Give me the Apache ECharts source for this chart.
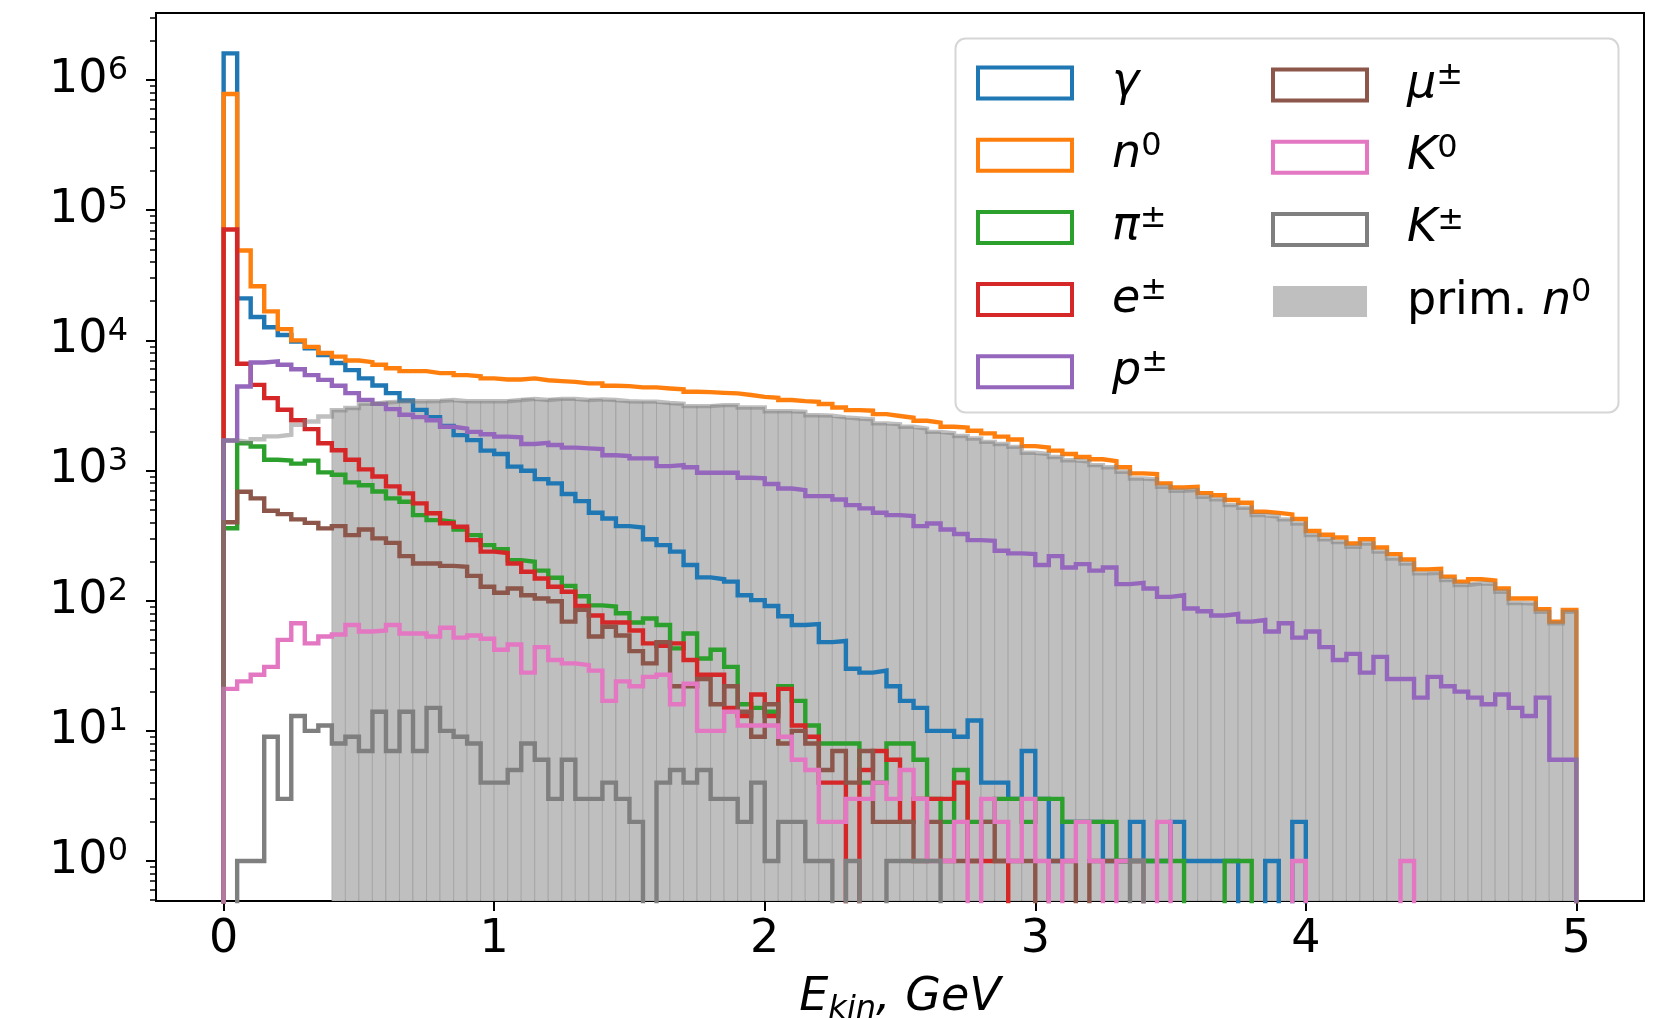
<!DOCTYPE html>
<html><head><meta charset="utf-8">
<script src="https://cdn.jsdelivr.net/npm/echarts@6/dist/echarts.min.js"></script>
<style>html,body{margin:0;padding:0;background:#fff}#c{width:1666px;height:1018px}</style>
</head><body><div id="c"></div>
<script>
// ---- histogram binning: 100 bins of 0.05 GeV from 0 to 5 GeV ----
const N_BINS = 100;
const BIN_W = 0.05;

// ---- counts per bin ----
const gamma = [1600000,21000,15100,12600,11000,9800,8700,7700,6700,5900,
 5100,4500,3930,3450,2920,2570,2200,1870,1710,1420,
 1340,1070,995,859,796,659,582,473,428,374,
 365,296,267,238,188,151,146,140,110,101,
 91,76,65,66,48,49,30,28,29,22,
 17,15,10,10,9,12,4,4,3,7,
 3,1,2,2,2,1,1,2,1,1,
 2,1,1,1,1,0,0,1,0,2,
 0,0,0,0,0,0,0,0,0,0, 0,0,0,0,0,0,0,0,0,0];
const n0 = [780000,49000,26000,16700,12200,10000,8900,8000,7500,7000,
 6800,6500,6100,5800,5800,5600,5600,5400,5300,5100,
 5000,5000,5100,4940,4860,4800,4670,4670,4480,4450,
 4350,4350,4270,4200,4030,4000,3950,3910,3800,3680,
 3620,3480,3410,3370,3240,3050,2910,2880,2710,2620,
 2540,2410,2330,2170,2140,2020,1930,1820,1730,1540,
 1500,1420,1340,1270,1220,1180,1060,950,938,796,
 741,750,670,645,593,565,482,473,460,424,
 343,321,306,275,296,256,228,207,174,176,
 153,140,146,143,124,104,104,86,69,85];
const piPM = [360,1620,1530,1210,1190,1130,1190,967,927,810,
 770,690,611,575,454,416,404,352,319,267,
 248,205,199,170,150,130,108,92,90,80,
 68,73,65,43,56,36,42,31,16,15,
 14,22,17,11,8,8,8,4,4,8,
 8,6,3,2,5,2,2,3,3,2,
 3,3,2,2,2,2,1,1,1,1,
 1,0,0,0,1,1,0,0,0,0,
 0,0,0,0,0,0,0,0,0,0, 0,0,0,0,0,0,0,0,0,0];
const ePM = [71000,6600,4550,3600,2930,2430,2080,1620,1430,1210,
 1020,900,755,667,559,469,393,370,292,238,
 232,193,167,148,128,117,91,77,68,68,
 59,47,45,47,35,27,27,15,13,19,
 13,21,11,9,4,4,0,5,7,6,
 2,3,3,3,4,1,1,1,0,0,
 0,0,0,0,0,0,0,0,0,0, 0,0,0,0,0,0,0,0,0,0,
 0,0,0,0,0,0,0,0,0,0, 0,0,0,0,0,0,0,0,0,0];
const pPM = [1700,4420,6760,6900,6500,6000,5400,4970,4480,3930,
 3490,3250,2960,2680,2570,2430,2170,2100,1980,1900,
 1820,1800,1600,1630,1570,1500,1480,1460,1310,1290,
 1240,1240,1080,1100,1060,960,960,960,879,870,
 787,728,707,635,635,599,542,512,473,454,
 446,374,392,352,325,292,288,242,231,228,
 188,220,180,191,170,180,134,137,124,107,
 110,87,83,77,79,69,71,58,67,52,
 58,44,35,39,28,37,25,25,18,26,
 22,20,18,16,19,15,13,18,6,6];
const muPM = [400,686,611,491,462,421,396,359,374,319,
 352,301,278,220,193,193,185,182,155,128,
 115,124,110,104,99,69,85,53,63,54,
 41,33,48,22,22,25,16,22,14,9,
 16,8,10,8,5,7,4,7,2,2,
 2,1,2,1,1,1,2,1,1,1,
 0,1,1,0,1,1,1,1,0,0,
 0,0,0,0,0,0,0,0,0,0, 0,0,0,0,0,0,0,0,0,0,
 0,0,0,0,0,0,0,0,0,0];
const K0 = [21,24,27,31,50,67,47,53,55,65,
 58,59,65,56,56,53,62,52,54,51,
 42,46,28,44,35,33,32,29,17,24,
 22,26,27,16,23,10,10,14,11,11,
 11,9,6,5,2,2,3,3,4,3,
 5,3,1,1,2,0,3,2,1,3,
 1,0,1,2,1,0,1,1,0,2,
 0,0,0,0,0,0,0,0,0,1,
 0,0,0,0,0,0,0,1,0,0,
 0,0,0,0,0,0,0,0,0,0];
const KPM = [0,1,1,9,3,13,10,11,8,9,
 7,14,7,14,7,15,10,9,8,4,
 4,5,8,6,3,6,3,3,4,3,
 2,0,4,5,4,5,3,3,2,4,
 1,2,2,1,1,0,1,0,0,1,
 1,1,1,0,0,0,0,0,0,0,
 0,0,0,0,0,0,0,1,0,0,
 0,0,0,0,0,0,0,0,0,0, 0,0,0,0,0,0,0,0,0,0,
 0,0,0,0,0,0,0,0,0,0];
const primN0 = [1700,1650,1740,1830,1880,2240,2380,2600,2900,3020,
 3250,3330,3380,3400,3400,3420,3480,3400,3400,3400,
 3400,3480,3550,3480,3550,3550,3480,3520,3480,3400,
 3380,3380,3300,3250,3120,3120,3180,3180,3050,3050,
 2850,2850,2820,2660,2640,2560,2510,2470,2300,2260,
 2170,2100,1980,1930,1840,1760,1660,1600,1520,1370,
 1340,1270,1200,1170,1100,1060,977,869,855,750,
 698,707,628,600,542,517,454,441,421,392,
 319,296,282,259,275,238,211,193,162,164,
 144,132,136,134,117,96,95,82,67,82];

// ---- axis ticks ----
const xTicks = [0, 1, 2, 3, 4, 5];
const yTicks = [1, 10, 100, 1000, 10000, 100000, 1000000];

// ---- layout / style constants ----
const X_MIN = -0.25, X_MAX = 5.25;
const Y_MIN = 0.493, Y_MAX = 3.27e6;
const FLOOR = 1e-3;           // stand-in for empty bins (below the axis, clipped)
const FILL_FROM = 0.4;        // filled bars of prim. n0 start here
const FONT = 'DejaVu Sans';
const FS = 46, FS_SUP = 32;

const yMinor = [];
for (let k = -1; k <= 6; k++) for (let m = 2; m <= 9; m++) {
  const v = m * Math.pow(10, k);
  if (v > Y_MIN && v < Y_MAX) yMinor.push(v);
}

function stepPoints(counts) {
  const pts = [[0, FLOOR]];
  counts.forEach((c, i) => {
    const v = c > 0 ? c : FLOOR;
    pts.push([i * BIN_W, v], [(i + 1) * BIN_W, v]);
  });
  pts.push([N_BINS * BIN_W, FLOOR]);
  return pts;
}

const hists = [
  {name: 'γ', data: gamma, color: '#1f77b4', label: '{i|γ}'},
  {name: 'n⁰', data: n0, color: '#ff7f0e', label: '{i|n}{s|0}'},
  {name: 'π±', data: piPM, color: '#2ca02c', label: '{i|π}{s|±}'},
  {name: 'e±', data: ePM, color: '#d62728', label: '{i|e}{s|±}'},
  {name: 'p±', data: pPM, color: '#9467bd', label: '{i|p}{s|±}'},
  {name: 'μ±', data: muPM, color: '#8c564b', label: '{i|μ}{s|±}'},
  {name: 'K⁰', data: K0, color: '#e377c2', label: '{i|K}{s|0}'},
  {name: 'K±', data: KPM, color: '#7f7f7f', label: '{i|K}{s|±}'}
];
const PRIM_NAME = 'prim. n⁰';
const labelMap = {};
hists.forEach(h => labelMap[h.name] = h.label);
labelMap[PRIM_NAME] = '{r|prim. }{i|n}{s|0}';

const series = [];
// filled bars of primary neutrons
series.push({
  type: 'custom', name: PRIM_NAME, coordinateSystem: 'cartesian2d',
  data: primN0.map((c, i) => [i * BIN_W, (i + 1) * BIN_W, c]).filter(d => d[0] >= FILL_FROM - 1e-9),
  encode: {x: [0, 1], y: 2},
  clip: true, silent: true, z: 1,
  renderItem: function (params, api) {
    const p0 = api.coord([api.value(0), api.value(2)]);
    const p1 = api.coord([api.value(1), Y_MIN]);
    return {type: 'rect', shape: {x: p0[0], y: p0[1], width: p1[0] - p0[0], height: p1[1] - p0[1]},
      style: {fill: '#bfbfbf', stroke: 'rgba(128,128,128,0.38)', lineWidth: 1}};
  }
});
hists.forEach((h, k) => {
  series.push({
    type: 'line', name: h.name, data: stepPoints(h.data),
    symbol: 'none', showSymbol: false, clip: true, silent: true, z: 2 + k * 0.01,
    lineStyle: {color: h.color, width: 4.4, join: 'miter'}, itemStyle: {color: h.color}
  });
});
series.push({
  type: 'line', name: PRIM_NAME, data: stepPoints(primN0),
  symbol: 'none', showSymbol: false, clip: true, silent: true, z: 3,
  lineStyle: {color: 'rgba(128,128,128,0.5)', width: 4.4, join: 'miter'}, itemStyle: {color: '#bfbfbf'}
});

const richLegend = {
  i: {fontFamily: FONT, fontStyle: 'italic', fontSize: FS, lineHeight: 50, color: '#000'},
  r: {fontFamily: FONT, fontSize: FS, lineHeight: 50, color: '#000'},
  s: {fontFamily: FONT, fontSize: FS_SUP, lineHeight: 32, verticalAlign: 'top', color: '#000'}
};
function legendItem(h) {
  return {name: h.name, icon: 'rect', itemStyle: {color: 'rgba(255,255,255,0)', borderColor: h.color, borderWidth: 4}};
}
const legendCommon = {
  orient: 'vertical', top: 60, itemWidth: 94, itemHeight: 31, itemGap: 24.2, padding: 0,
  selectedMode: false, z: 6,
  formatter: name => labelMap[name],
  textStyle: {rich: richLegend, padding: [0, 0, 0, 35]}
};

const option = {
  animation: false,
  backgroundColor: '#fff',
  grid: {left: 156, right: 22, top: 13, bottom: 117, containLabel: false, outerBoundsMode: 'none',
    show: true, borderColor: '#000', borderWidth: 2, backgroundColor: 'transparent'},
  xAxis: {
    type: 'value', min: X_MIN, max: X_MAX,
    axisLine: {show: true, onZero: false, lineStyle: {color: '#000', width: 2}},
    axisTick: {show: true, customValues: xTicks, length: 10, lineStyle: {color: '#000', width: 2}},
    axisLabel: {customValues: xTicks, fontFamily: FONT, fontSize: FS, color: '#000', margin: 16},
    splitLine: {show: false},
    name: '{i|E}{sub|kin}{i|, GeV}', nameLocation: 'middle', nameGap: 69,
    nameTextStyle: {rich: {
      i: {fontFamily: FONT, fontStyle: 'italic', fontSize: FS, lineHeight: 56, color: '#000'},
      sub: {fontFamily: FONT, fontStyle: 'italic', fontSize: FS_SUP, lineHeight: 32, verticalAlign: 'bottom', color: '#000'}
    }}
  },
  yAxis: [{
    type: 'log', logBase: 10, min: Y_MIN, max: Y_MAX,
    axisLine: {show: true, onZero: false, lineStyle: {color: '#000', width: 2}},
    axisTick: {show: true, customValues: yTicks, length: 10, lineStyle: {color: '#000', width: 2}},
    axisLabel: {customValues: yTicks, margin: 28,
      formatter: v => '{b|10}{s|' + Math.round(Math.log10(v)) + '}',
      rich: {
        b: {fontFamily: FONT, fontSize: FS, lineHeight: 50, color: '#000'},
        s: {fontFamily: FONT, fontSize: FS_SUP, lineHeight: 32, verticalAlign: 'top', color: '#000'}
      }},
    splitLine: {show: false}
  }, {
    type: 'log', logBase: 10, min: Y_MIN, max: Y_MAX, position: 'left',
    axisLine: {show: false, onZero: false},
    axisTick: {show: true, customValues: yMinor, length: 6, lineStyle: {color: '#000', width: 1.5}},
    axisLabel: {show: false}, splitLine: {show: false}
  }],
  legend: [
    Object.assign({left: 976, data: hists.slice(0, 5).map(legendItem)}, legendCommon),
    Object.assign({left: 1271, data: hists.slice(5).map(legendItem).concat([
      {name: PRIM_NAME, icon: 'rect', itemStyle: {color: '#bfbfbf', borderWidth: 0}}])}, legendCommon)
  ],
  graphic: [{
    type: 'rect', z: 5, silent: true,
    shape: {x: 955.5, y: 38.5, width: 663, height: 374, r: 10},
    style: {fill: 'rgba(255,255,255,0.85)', stroke: '#d6d6d6', lineWidth: 2}
  }],
  series: series
};

const chart = echarts.init(document.getElementById('c'), null, {renderer: 'canvas'});
chart.setOption(option);
</script></body></html>
